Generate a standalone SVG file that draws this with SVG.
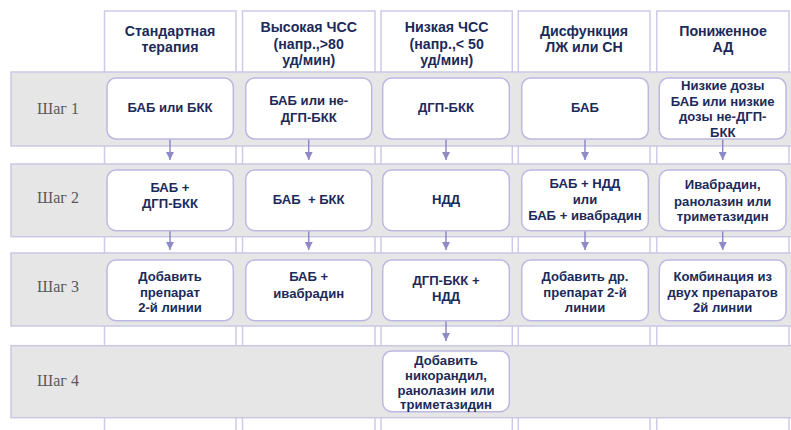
<svg xmlns="http://www.w3.org/2000/svg" width="791" height="430" viewBox="0 0 791 430">
<defs>
<style>
.col{fill:#fff;stroke:#cdcae9;stroke-width:1.5}
.band{fill:#e6e6e6;stroke:#cac8e4;stroke-width:1.5}
.box{fill:#fff;stroke:#bcb8e2;stroke-width:1.5}
.h{font-family:"Liberation Sans",Arial,sans-serif;font-weight:bold;font-size:14.2px;fill:#1c2a5a;text-anchor:middle}
.t{font-family:"Liberation Sans",Arial,sans-serif;font-weight:bold;font-size:13.1px;fill:#1c2a5a;text-anchor:middle}
.s{font-family:"Liberation Serif","Times New Roman",serif;font-size:16px;fill:#5a5a5a;text-anchor:middle}
.arr{stroke:#8e8ac6;stroke-width:1.5;fill:none}
</style>
<marker id="ah" markerWidth="8" markerHeight="8" refX="8" refY="4" orient="auto" markerUnits="userSpaceOnUse">
<path d="M0,0 L8,4 L0,8 z" fill="#8e8ac6"/>
</marker>
</defs>
<rect width="791" height="430" fill="#fff"/>
<g id="columns">
<g id="col1"><rect class="col" x="104.5" y="11" width="131.5" height="430"/><text class="h" x="170" y="36">Стандартная</text><text class="h" x="170" y="52">терапия</text></g>
<g id="col2"><rect class="col" x="242.5" y="11" width="132.5" height="430"/><text class="h" x="308.7" y="32">Высокая ЧСС</text><text class="h" x="308.7" y="48.5">(напр.,&gt;80</text><text class="h" x="308.7" y="64.5">уд/мин)</text></g>
<g id="col3"><rect class="col" x="381" y="11" width="131.3" height="430"/><text class="h" x="446.7" y="32">Низкая ЧСС</text><text class="h" x="446.7" y="48.5">(напр.,&lt; 50</text><text class="h" x="446.7" y="64.5">уд/мин)</text></g>
<g id="col4"><rect class="col" x="518.3" y="11" width="131.7" height="430"/><text class="h" x="584" y="36">Дисфункция</text><text class="h" x="584" y="52">ЛЖ или СН</text></g>
<g id="col5"><rect class="col" x="656.7" y="11" width="132.3" height="430"/><text class="h" x="723" y="36">Пониженное</text><text class="h" x="723" y="52">АД</text></g>
</g>
<g id="bands">
<g id="step1"><rect class="band" x="11" y="72" width="782" height="74"/><text class="s" x="58" y="114">Шаг 1</text></g>
<g id="step2"><rect class="band" x="11" y="164" width="782" height="72.7"/><text class="s" x="58" y="203">Шаг 2</text></g>
<g id="step3"><rect class="band" x="11" y="253" width="782" height="73"/><text class="s" x="58" y="292">Шаг 3</text></g>
<g id="step4"><rect class="band" x="11" y="345.7" width="782" height="72"/><text class="s" x="58" y="386">Шаг 4</text></g>
</g>
<g id="connectors">
<line class="arr" x1="170" y1="139" x2="170" y2="160" marker-end="url(#ah)"/>
<line class="arr" x1="308.7" y1="139" x2="308.7" y2="160" marker-end="url(#ah)"/>
<line class="arr" x1="446" y1="139" x2="446" y2="160" marker-end="url(#ah)"/>
<line class="arr" x1="585" y1="139" x2="585" y2="160" marker-end="url(#ah)"/>
<line class="arr" x1="722.7" y1="139" x2="722.7" y2="160" marker-end="url(#ah)"/>
<line class="arr" x1="170" y1="230.7" x2="170" y2="250" marker-end="url(#ah)"/>
<line class="arr" x1="308.7" y1="230.7" x2="308.7" y2="250" marker-end="url(#ah)"/>
<line class="arr" x1="446" y1="230.7" x2="446" y2="250" marker-end="url(#ah)"/>
<line class="arr" x1="585" y1="230.7" x2="585" y2="250" marker-end="url(#ah)"/>
<line class="arr" x1="722.7" y1="230.7" x2="722.7" y2="250" marker-end="url(#ah)"/>
<line class="arr" x1="446" y1="320.7" x2="446" y2="341" marker-end="url(#ah)"/>
</g>
<g id="n11"><rect class="box" x="107" y="78" width="126.3" height="61" rx="9"/><text class="t" x="170" y="112">БАБ или БКК</text></g>
<g id="n12"><rect class="box" x="245.7" y="78" width="126" height="61" rx="9"/><text class="t" x="308.7" y="105">БАБ или не-</text><text class="t" x="308.7" y="121.5">ДГП-БКК</text></g>
<g id="n13"><rect class="box" x="382.7" y="78" width="126.6" height="61" rx="9"/><text class="t" x="446" y="112">ДГП-БКК</text></g>
<g id="n14"><rect class="box" x="521.7" y="78" width="126.6" height="61" rx="9"/><text class="t" x="585" y="112">БАБ</text></g>
<g id="n15"><rect class="box" x="659.3" y="78" width="126.7" height="61" rx="9"/><text class="t" x="722.7" y="90">Низкие дозы</text><text class="t" x="722.7" y="105.5">БАБ или низкие</text><text class="t" x="722.7" y="121">дозы не-ДГП-</text><text class="t" x="722.7" y="136.5">БКК</text></g>
<g id="n21"><rect class="box" x="107" y="170" width="126.3" height="60.7" rx="9"/><text class="t" x="170" y="192">БАБ +</text><text class="t" x="170" y="208">ДГП-БКК</text></g>
<g id="n22"><rect class="box" x="245.7" y="170" width="126" height="60.7" rx="9"/><text class="t" x="308.7" y="204" xml:space="preserve">БАБ  + БКК</text></g>
<g id="n23"><rect class="box" x="382.7" y="170" width="126.6" height="60.7" rx="9"/><text class="t" x="446" y="204">НДД</text></g>
<g id="n24"><rect class="box" x="521.7" y="170" width="126.6" height="60.7" rx="9"/><text class="t" x="585" y="187.5">БАБ + НДД</text><text class="t" x="585" y="203.5">или</text><text class="t" x="585" y="219.5">БАБ + ивабрадин</text></g>
<g id="n25"><rect class="box" x="659.3" y="170" width="126.7" height="60.7" rx="9"/><text class="t" x="722.7" y="189">Ивабрадин,</text><text class="t" x="722.7" y="206">ранолазин или</text><text class="t" x="722.7" y="221">триметазидин</text></g>
<g id="n31"><rect class="box" x="107" y="260" width="126.3" height="60.7" rx="9"/><text class="t" x="170" y="281">Добавить</text><text class="t" x="170" y="296.5">препарат</text><text class="t" x="170" y="311.5">2-й линии</text></g>
<g id="n32"><rect class="box" x="245.7" y="260" width="126" height="60.7" rx="9"/><text class="t" x="308.7" y="281">БАБ +</text><text class="t" x="308.7" y="297.5">ивабрадин</text></g>
<g id="n33"><rect class="box" x="382.7" y="260" width="126.6" height="60.7" rx="9"/><text class="t" x="446" y="284.5">ДГП-БКК +</text><text class="t" x="446" y="300.5">НДД</text></g>
<g id="n34"><rect class="box" x="521.7" y="260" width="126.6" height="60.7" rx="9"/><text class="t" x="585" y="281">Добавить др.</text><text class="t" x="585" y="296.5">препарат 2-й</text><text class="t" x="585" y="311.5">линии</text></g>
<g id="n35"><rect class="box" x="659.3" y="260" width="126.7" height="60.7" rx="9"/><text class="t" x="722.7" y="281">Комбинация из</text><text class="t" x="722.7" y="296.5">двух препаратов</text><text class="t" x="722.7" y="311.5">2й линии</text></g>
<g id="n43"><rect class="box" x="382.7" y="351" width="126.6" height="60.7" rx="9"/><text class="t" x="446" y="364.5">Добавить</text><text class="t" x="446" y="379.5">никорандил,</text><text class="t" x="446" y="394.5">ранолазин или</text><text class="t" x="446" y="408.5">триметазидин</text></g>
</svg>
